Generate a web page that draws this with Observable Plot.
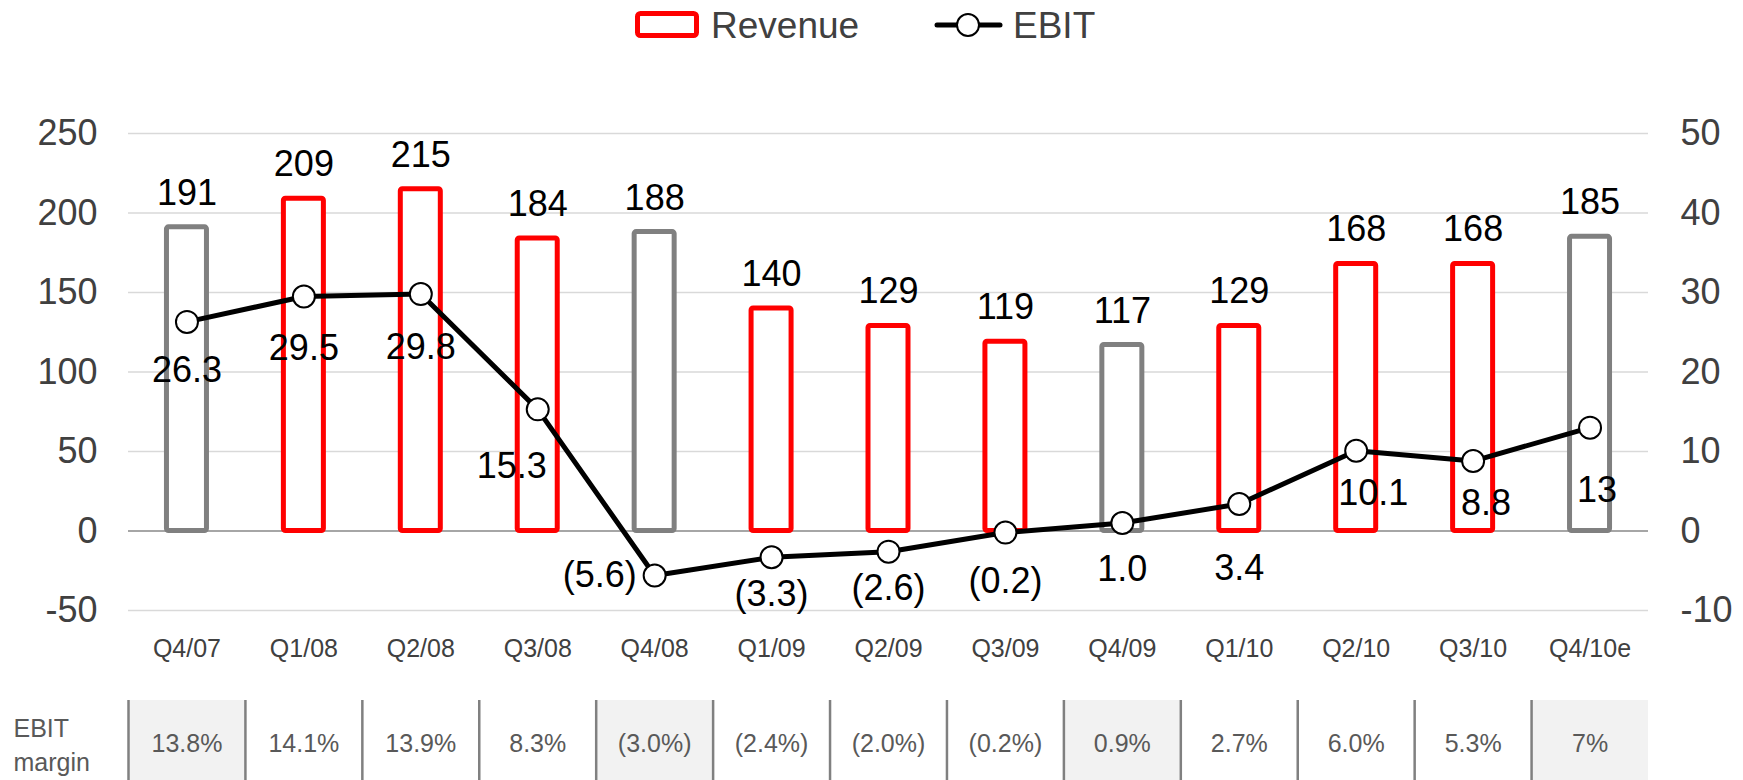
<!DOCTYPE html>
<html>
<head>
<meta charset="utf-8">
<script src="https://cdn.jsdelivr.net/npm/d3@7"></script>
<script src="https://cdn.jsdelivr.net/npm/@observablehq/plot@0.6"></script>
<style>
  html, body { margin: 0; padding: 0; background: #fff; }
  body { width: 1743px; height: 780px; overflow: hidden; font-family: "Liberation Sans", Arial, sans-serif; }
  svg { display: block; }
</style>
</head>
<body>
<div id="legend"></div>
<div id="chart"></div>
<div id="table"></div>
<script>
// ---- data ----
const quarters = ["Q4/07","Q1/08","Q2/08","Q3/08","Q4/08","Q1/09","Q2/09","Q3/09","Q4/09","Q1/10","Q2/10","Q3/10","Q4/10e"];
const revenue = [191, 209, 215, 184, 188, 140, 129, 119, 117, 129, 168, 168, 185];
const ebit = [26.3, 29.5, 29.8, 15.3, -5.6, -3.3, -2.6, -0.2, 1.0, 3.4, 10.1, 8.8, 13];
const ebitLabels = ["26.3","29.5","29.8","15.3","(5.6)","(3.3)","(2.6)","(0.2)","1.0","3.4","10.1","8.8","13"];
const marginLabels = ["13.8%","14.1%","13.9%","8.3%","(3.0%)","(2.4%)","(2.0%)","(0.2%)","0.9%","2.7%","6.0%","5.3%","7%"];
const leftTicks = [-50, 0, 50, 100, 150, 200, 250];
const rightPerLeft = 5; // right axis (EBIT) = left axis (Revenue) / 5

// ---- label placement (style) ----
const ebitLabelDx = [0, 0, 0, -26, -55, 0, 0, 0, 0, 0, 17, 13, 7];
const ebitLabelDy = [49, 52, 53, 57, 0, 37, 37, 49, 46, 64, 43, 42, 63];

// ---- layout ----
const W = 1743;
const ML = 128, MR = 95;
const FONT = '"Liberation Sans", Arial, sans-serif';
const RED = "#ff0000", GRAY = "#808080";
const isQ4 = q => q.startsWith("Q4");

const rows = quarters.map((q, i) => ({
  q, rev: revenue[i], ebit: ebit[i], ebitY: ebit[i] * rightPerLeft,
  label: ebitLabels[i], margin: marginLabels[i], dx: ebitLabelDx[i], dy: ebitLabelDy[i]
}));

// ---- legend ----
document.getElementById("legend").innerHTML = `
<svg width="${W}" height="50" style="font-family:${FONT.replace(/"/g, "'")}">
  <rect x="637.5" y="13.5" width="59" height="22" rx="3" fill="#fff" stroke="${RED}" stroke-width="5"/>
  <text x="711" y="37.5" font-size="37" fill="#404040">Revenue</text>
  <line x1="937" y1="25" x2="1000" y2="25" stroke="#000" stroke-width="5" stroke-linecap="round"/>
  <circle cx="968" cy="25" r="11" fill="#fff" stroke="#000" stroke-width="2"/>
  <text x="1013" y="37.5" font-size="37" fill="#404040">EBIT</text>
</svg>`;

// ---- main chart ----
const bandW = (W - ML - MR) / quarters.length;
const barW = 40;
const inset = (bandW - barW) / 2;

const chart = Plot.plot({
  width: W,
  height: 650,
  marginLeft: ML,
  marginRight: MR,
  marginTop: 83,
  marginBottom: 90,
  style: { fontFamily: FONT, background: "#fff", color: "#404040" },
  x: { domain: quarters, padding: 0, round: false },
  y: { domain: [-50, 250], nice: false },
  marks: [
    Plot.ruleY(leftTicks.filter(d => d !== 0), { stroke: "#d9d9d9", strokeWidth: 1.5 }),
    Plot.ruleY([0], { stroke: "#a6a6a6", strokeWidth: 2 }),
    Plot.barY(rows.filter(d => !isQ4(d.q)), { x: "q", y: "rev", fill: "#fff", stroke: RED, strokeWidth: 5, insetLeft: inset, insetRight: inset, rx: 2 }),
    Plot.barY(rows.filter(d => isQ4(d.q)), { x: "q", y: "rev", fill: "#fff", stroke: GRAY, strokeWidth: 5, insetLeft: inset, insetRight: inset, rx: 2 }),
    Plot.text(rows, { x: "q", y: "rev", text: d => String(d.rev), dy: -34, fontSize: 36, fill: "#000" }),
    Plot.line(rows, { x: "q", y: "ebitY", stroke: "#000", strokeWidth: 5 }),
    Plot.dot(rows, { x: "q", y: "ebitY", r: 11, fill: "#fff", stroke: "#000", strokeWidth: 2 }),
    ...rows.map(d => Plot.text([d], { x: "q", y: "ebitY", text: "label", dx: d.dx, dy: d.dy, fontSize: 36, fill: "#000" })),
    Plot.axisY({ anchor: "left", ticks: leftTicks, tickSize: 0, tickPadding: 31, tickFormat: d => String(d), fontSize: 36, label: null }),
    Plot.axisY({ anchor: "right", ticks: leftTicks, tickSize: 0, tickPadding: 32, tickFormat: d => String(d / rightPerLeft), fontSize: 36, label: null }),
    Plot.axisX({ anchor: "bottom", tickSize: 0, tickPadding: 29, fontSize: 25, label: null })
  ]
});
document.getElementById("chart").appendChild(chart);

// ---- EBIT margin table ----
const table = Plot.plot({
  width: W,
  height: 80,
  marginLeft: ML,
  marginRight: MR,
  marginTop: 0,
  marginBottom: 0,
  style: { fontFamily: FONT, background: "#fff" },
  x: { domain: quarters, padding: 0, round: false, axis: null },
  marks: [
    Plot.cell(rows.filter(d => isQ4(d.q)), { x: "q", fill: "#f2f2f2" }),
    Plot.ruleX(rows, { x: "q", dx: -bandW / 2, stroke: GRAY, strokeWidth: 2.5 }),
    Plot.text(rows, { x: "q", text: "margin", fontSize: 25, fill: "#595959", dy: 3 }),
    Plot.text(["EBIT\nmargin"], { frameAnchor: "left", dx: -115, dy: 3, textAnchor: "start", fontSize: 25, lineHeight: 1.36, fill: "#595959" })
  ]
});
document.getElementById("table").appendChild(table);
</script>
</body>
</html>
